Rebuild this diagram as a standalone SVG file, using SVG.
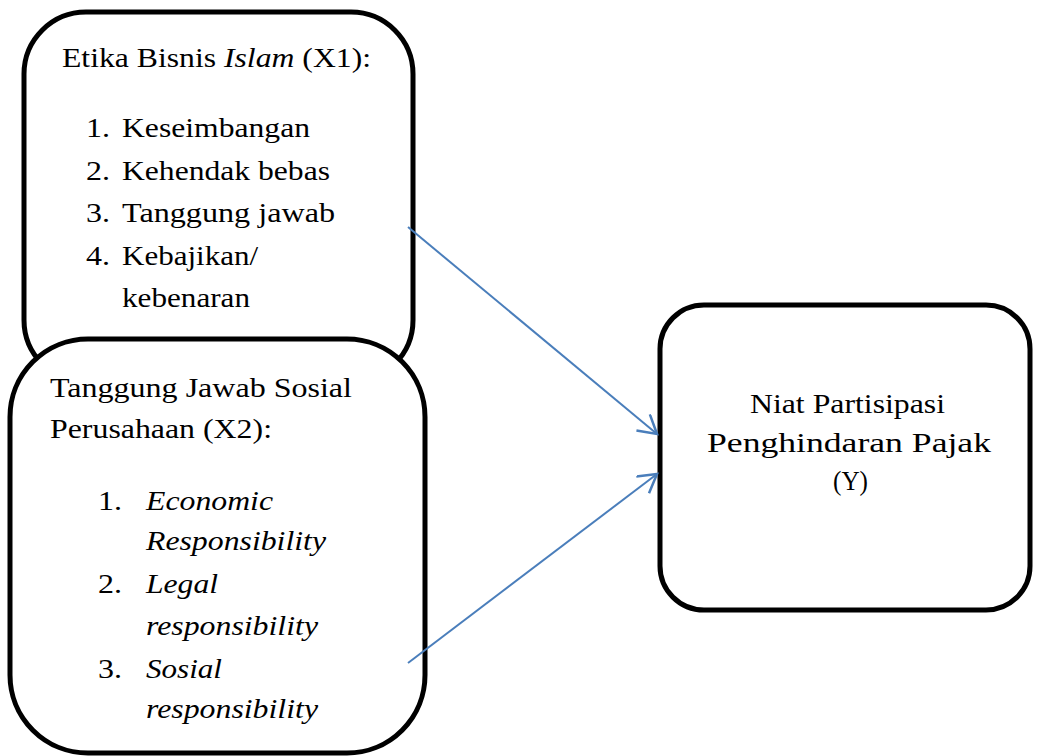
<svg xmlns="http://www.w3.org/2000/svg" width="1039" height="756" viewBox="0 0 1039 756">
<style>
.box{fill:#fff;stroke:#000;stroke-width:5}
text{font-family:'Liberation Serif','Times New Roman',Times,serif;font-size:28px;fill:#000}
.i{font-style:italic}
.conn{fill:none;stroke:#4a7ebb;stroke-width:2}
</style>
<defs>
<marker id="arr" markerWidth="24" markerHeight="24" refX="20" refY="11" orient="auto" markerUnits="userSpaceOnUse">
<path d="M2,0.5 L20,11 L2,21.5" fill="none" stroke="#4a7ebb" stroke-width="2.5"/>
</marker>
</defs>
<rect width="1039" height="756" fill="#fff"/>
<g id="x1">
<rect class="box" x="24" y="12" width="389" height="370" rx="62" ry="62"/>
<text x="62" y="67" textLength="309" lengthAdjust="spacingAndGlyphs">Etika Bisnis <tspan class="i">Islam</tspan> (X1):</text>
<text x="86" y="137" textLength="24" lengthAdjust="spacingAndGlyphs">1.</text>
<text x="122" y="137" textLength="188" lengthAdjust="spacingAndGlyphs">Keseimbangan</text>
<text x="86" y="180" textLength="24" lengthAdjust="spacingAndGlyphs">2.</text>
<text x="122" y="180" textLength="208" lengthAdjust="spacingAndGlyphs">Kehendak bebas</text>
<text x="86" y="222" textLength="24" lengthAdjust="spacingAndGlyphs">3.</text>
<text x="122" y="222" textLength="213" lengthAdjust="spacingAndGlyphs">Tanggung jawab</text>
<text x="86" y="265" textLength="24" lengthAdjust="spacingAndGlyphs">4.</text>
<text x="122" y="265" textLength="136" lengthAdjust="spacingAndGlyphs">Kebajikan/</text>
<text x="122" y="307" textLength="128" lengthAdjust="spacingAndGlyphs">kebenaran</text>
</g>
<g id="x2">
<rect class="box" x="10" y="339" width="415" height="414" rx="78" ry="78"/>
<text x="50" y="397" textLength="302" lengthAdjust="spacingAndGlyphs">Tanggung Jawab Sosial</text>
<text x="50" y="438" textLength="222" lengthAdjust="spacingAndGlyphs">Perusahaan (X2):</text>
<text x="98" y="510" textLength="24" lengthAdjust="spacingAndGlyphs">1.</text>
<text class="i" x="146" y="510" textLength="127" lengthAdjust="spacingAndGlyphs">Economic</text>
<text class="i" x="146" y="550" textLength="180" lengthAdjust="spacingAndGlyphs">Responsibility</text>
<text x="98" y="593" textLength="24" lengthAdjust="spacingAndGlyphs">2.</text>
<text class="i" x="146" y="593" textLength="72" lengthAdjust="spacingAndGlyphs">Legal</text>
<text class="i" x="146" y="635" textLength="172" lengthAdjust="spacingAndGlyphs">responsibility</text>
<text x="98" y="678" textLength="24" lengthAdjust="spacingAndGlyphs">3.</text>
<text class="i" x="146" y="678" textLength="76" lengthAdjust="spacingAndGlyphs">Sosial</text>
<text class="i" x="146" y="718" textLength="172" lengthAdjust="spacingAndGlyphs">responsibility</text>
</g>
<g id="y">
<rect class="box" x="660" y="305" width="370" height="305" rx="44" ry="44"/>
<text x="750" y="413" textLength="195" lengthAdjust="spacingAndGlyphs">Niat Partisipasi</text>
<text x="707" y="452" textLength="284" lengthAdjust="spacingAndGlyphs">Penghindaran Pajak</text>
<text x="833" y="490" textLength="35" lengthAdjust="spacingAndGlyphs">(Y)</text>
</g>
<g id="connectors">
<line class="conn" x1="408" y1="227" x2="657" y2="434" marker-end="url(#arr)"/>
<line class="conn" x1="408" y1="663" x2="657" y2="474" marker-end="url(#arr)"/>
</g>
</svg>
